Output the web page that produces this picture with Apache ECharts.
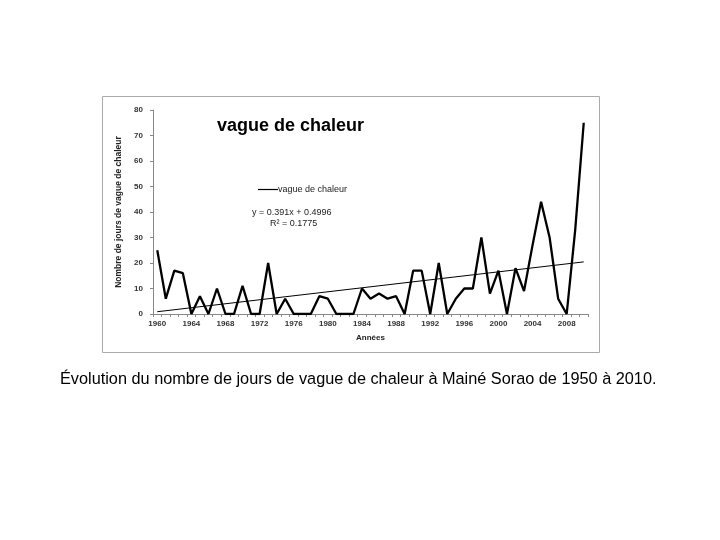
<!DOCTYPE html>
<html>
<head>
<meta charset="utf-8">
<script src="https://cdn.jsdelivr.net/npm/echarts@6/dist/echarts.min.js"></script>
<style>
html,body{margin:0;padding:0;background:#fff;}
#c{width:720px;height:540px;}
</style>
</head>
<body>
<div id="c"></div>
<script>
var years = ["1960","1961","1962","1963","1964","1965","1966","1967","1968","1969",
  "1970","1971","1972","1973","1974","1975","1976","1977","1978","1979",
  "1980","1981","1982","1983","1984","1985","1986","1987","1988","1989",
  "1990","1991","1992","1993","1994","1995","1996","1997","1998","1999",
  "2000","2001","2002","2003","2004","2005","2006","2007","2008","2009","2010"];
var heatDays = [25,6,17,16,0,7,0,10,0,0,
  11,0,0,20,0,6,0,0,0,7,
  6,0,0,0,10,6,8,6,7,0,
  17,17,0,20,0,6,10,10,30,8,
  17,0,18,9,27,44,30,6,0,33,75];
var trendSlope = 0.391;
var trendIntercept = 0.4996;
var yTicks = [0,10,20,30,40,50,60,70,80];

var chart = echarts.init(document.getElementById('c'), null, {renderer:'canvas'});
var FONT = '"Liberation Sans", Arial, sans-serif';
chart.setOption({
  backgroundColor:'#ffffff',
  animation:false,
  title:{
    text:'vague de chaleur',
    left:212, top:112,
    textStyle:{fontFamily:FONT, fontSize:18, fontWeight:'bold', color:'#000'}
  },
  legend:{
    left:253, top:180,
    icon:'rect',
    itemWidth:20, itemHeight:1.2, itemGap:0,
    data:['vague de chaleur'],
    textStyle:{fontFamily:FONT, fontSize:9, color:'#222', padding:[0,0,0,-5]}
  },
  grid:{left:153, right:132, top:110, bottom:226, containLabel:false},
  xAxis:{
    type:'category',
    data:years,
    boundaryGap:true,
    name:'Années',
    nameLocation:'middle',
    nameGap:20,
    nameTextStyle:{fontFamily:FONT, fontSize:8, fontWeight:'bold', color:'#222'},
    axisLine:{lineStyle:{color:'#888', width:1}},
    axisTick:{show:true, interval:0, length:3, lineStyle:{color:'#888'}},
    axisLabel:{interval:3, fontFamily:FONT, fontSize:8, fontWeight:'bold', color:'#333', margin:6}
  },
  yAxis:{
    type:'value',
    min:yTicks[0], max:yTicks[yTicks.length-1], interval:10,
    name:'Nombre de jours de vague de chaleur',
    nameLocation:'middle',
    nameGap:27,
    nameRotate:90,
    nameTextStyle:{fontFamily:FONT, fontSize:8.5, fontWeight:'bold', color:'#222'},
    axisLine:{show:true, lineStyle:{color:'#888', width:1}},
    axisTick:{show:true, length:3, lineStyle:{color:'#888'}},
    splitLine:{show:false},
    axisLabel:{fontFamily:FONT, fontSize:8, fontWeight:'bold', color:'#333', margin:10}
  },
  series:[{
    name:'vague de chaleur',
    type:'line',
    data:heatDays,
    symbol:'none',
    lineStyle:{color:'#000', width:2.3},
    itemStyle:{color:'#000'},
    markLine:{
      silent:true,
      symbol:['none','none'],
      label:{show:false},
      lineStyle:{color:'#000', width:1, type:'solid'},
      data:[[
        {coord:[years[0], trendSlope*1+trendIntercept]},
        {coord:[years[years.length-1], trendSlope*years.length+trendIntercept]}
      ]]
    }
  }],
  graphic:[
    {type:'rect', shape:{x:102.5, y:96.5, width:497, height:256},
     style:{fill:'none', stroke:'#aaaaaa', lineWidth:1}, silent:true},
    {type:'text', x:252, y:208,
     style:{text:'y = 0.391x + 0.4996', font:'9px "Liberation Sans", Arial, sans-serif', fill:'#222'}},
    {type:'text', x:270, y:219,
     style:{text:'R² = 0.1775', font:'9px "Liberation Sans", Arial, sans-serif', fill:'#222'}},
    {type:'text', x:60, y:372,
     style:{text:'Évolution du nombre de jours de vague de chaleur à Mainé Sorao de 1950 à 2010.', font:'16.3px "Liberation Sans", Arial, sans-serif', fill:'#000'}}
  ]
});
</script>
</body>
</html>
